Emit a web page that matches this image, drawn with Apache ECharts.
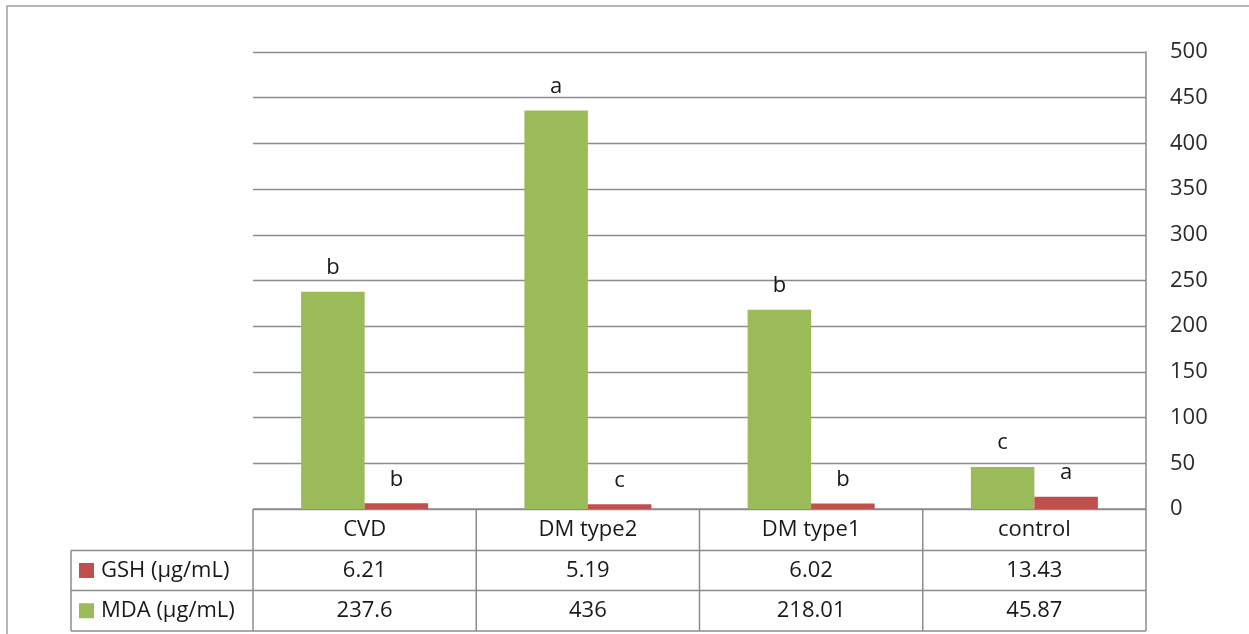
<!DOCTYPE html>
<html>
<head>
<meta charset="utf-8">
<script src="https://cdn.jsdelivr.net/npm/echarts@6/dist/echarts.min.js"></script>
<style>
html,body{margin:0;padding:0;background:#fff;}
#chart{width:1249px;height:634px;}
</style>
</head>
<body>
<div id="chart"></div>
<script>
const categories = ['CVD', 'DM type2', 'DM type1', 'control'];
const mdaValues = [237.6, 436, 218.01, 45.87];
const gshValues = [6.21, 5.19, 6.02, 13.43];
const mdaLetters = ['b', 'a', 'b', 'c'];
const gshLetters = ['b', 'c', 'b', 'a'];
const seriesNames = { gsh: 'GSH (µg/mL)', mda: 'MDA (µg/mL)' };
const yMin = 0, yMax = 500, yInterval = 50;

const FONT = 'Open Sans';
const FS = 22;
const TXT = '#1a1a1a';
const LINE = '#8c8c8c';
const GREEN = '#9bbb59';
const RED = '#c0504d';

const chart = echarts.init(document.getElementById('chart'), null, { renderer: 'canvas' });

function letterLabel(letters) {
  return {
    show: true,
    position: 'top',
    distance: 13,
    fontFamily: FONT,
    fontSize: FS,
    color: TXT,
    formatter: p => letters[p.dataIndex]
  };
}

chart.setOption({
  animation: false,
  backgroundColor: '#fff',
  textStyle: { fontFamily: FONT },
  grid: { left: 253, right: 103, top: 52, bottom: 125, containLabel: false },
  legend: { show: false },
  xAxis: {
    type: 'category',
    data: categories,
    axisLine: { show: false },
    axisTick: { show: false },
    axisLabel: { margin: 10, fontFamily: FONT, fontSize: FS, color: TXT, verticalAlign: 'top' }
  },
  yAxis: {
    type: 'value',
    position: 'right',
    min: yMin,
    max: yMax,
    interval: yInterval,
    axisLine: { show: true, lineStyle: { color: LINE, width: 1.5 } },
    axisTick: { show: false },
    axisLabel: { margin: 24, fontFamily: FONT, fontSize: FS, color: '#2b2b2b' },
    splitLine: { show: true, lineStyle: { color: LINE, width: 1.3 } }
  },
  series: [
    {
      name: seriesNames.mda,
      type: 'bar',
      data: mdaValues,
      barWidth: 63.5,
      barGap: '0%',
      itemStyle: { color: GREEN },
      label: letterLabel(mdaLetters)
    },
    {
      name: seriesNames.gsh,
      type: 'bar',
      data: gshValues,
      barWidth: 63.5,
      itemStyle: { color: RED },
      label: letterLabel(gshLetters)
    }
  ]
});

// Data table under the plot, positioned from the axes
(function buildTable() {
  const n = categories.length;
  const c0 = chart.convertToPixel({ xAxisIndex: 0 }, 0);
  const c1 = chart.convertToPixel({ xAxisIndex: 0 }, 1);
  const bw = c1 - c0;
  const edges = [];
  for (let i = 0; i <= n; i++) edges.push(c0 - bw / 2 + i * bw);
  const y0 = chart.convertToPixel({ yAxisIndex: 0 }, 0);
  const rowTops = [y0, y0 + 41.5, y0 + 81.5, y0 + 122];
  const legendLeft = 71;
  const g = [];
  const ls = { stroke: LINE, lineWidth: 1.5 };
  // outer frame
  g.push({ type: 'rect', shape: { x: 7, y: 6, width: 1400, height: 800 }, style: { fill: 'none', stroke: '#a0a0a0', lineWidth: 1.5 }, silent: true });
  // horizontal lines
  g.push({ type: 'line', shape: { x1: edges[0], y1: rowTops[0], x2: edges[n], y2: rowTops[0] }, style: ls });
  for (let r = 1; r < 4; r++) {
    g.push({ type: 'line', shape: { x1: legendLeft, y1: rowTops[r], x2: edges[n], y2: rowTops[r] }, style: ls });
  }
  // vertical lines
  for (let i = 0; i <= n; i++) {
    g.push({ type: 'line', shape: { x1: edges[i], y1: rowTops[0], x2: edges[i], y2: rowTops[3] }, style: ls });
  }
  g.push({ type: 'line', shape: { x1: legendLeft, y1: rowTops[1], x2: legendLeft, y2: rowTops[3] }, style: ls });
  // rows
  const rows = [
    { name: seriesNames.gsh, color: RED, values: gshValues },
    { name: seriesNames.mda, color: GREEN, values: mdaValues }
  ];
  rows.forEach((row, r) => {
    const cy = (rowTops[r + 1] + rowTops[r + 2]) / 2;
    g.push({ type: 'rect', shape: { x: 79, y: cy - 7.5, width: 15, height: 15 }, style: { fill: row.color } });
    g.push({ type: 'text', x: 101, y: cy, style: { text: row.name, fontFamily: FONT, fontSize: FS, fill: TXT, align: 'left', verticalAlign: 'middle' } });
    row.values.forEach((v, i) => {
      g.push({ type: 'text', x: (edges[i] + edges[i + 1]) / 2, y: cy, style: { text: String(v), fontFamily: FONT, fontSize: FS, fill: TXT, align: 'center', verticalAlign: 'middle' } });
    });
  });
  chart.setOption({ graphic: g });
})();
</script>
</body>
</html>
